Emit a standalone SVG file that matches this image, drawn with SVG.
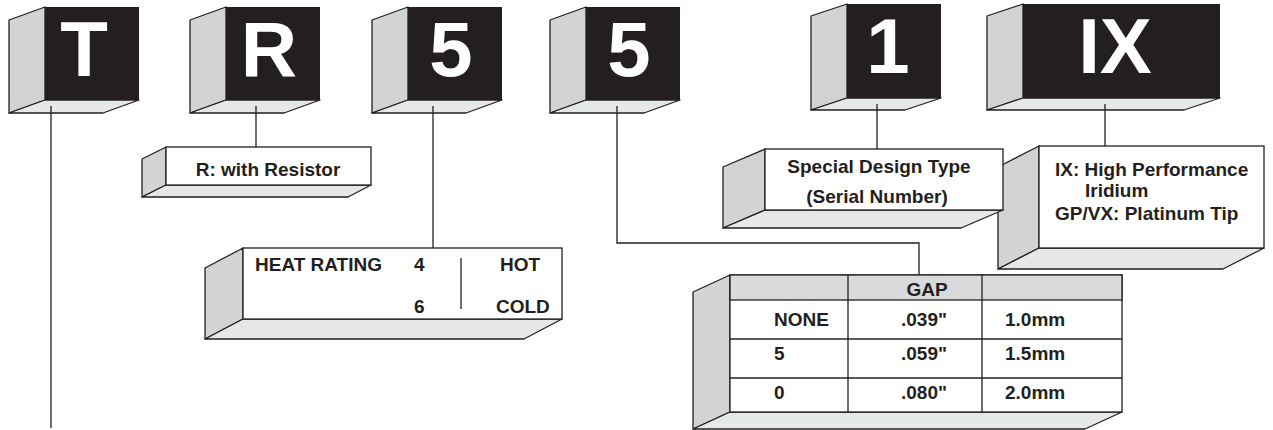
<svg xmlns="http://www.w3.org/2000/svg" width="1273" height="430" viewBox="0 0 1273 430">
<style>
.blk{fill:#231f20}
.side{fill:#d1d3d4;stroke:#231f20;stroke-width:1.3;stroke-linejoin:round}
.bot{fill:#e6e7e8;stroke:#231f20;stroke-width:1.3;stroke-linejoin:round}
.face{fill:#fff;stroke:#231f20;stroke-width:1.3}
.hdr{fill:#d9dadb;stroke:#231f20;stroke-width:1.3}
.big{font-family:"Liberation Sans",Arial,sans-serif;font-weight:bold;font-size:78px;fill:#fff;text-anchor:middle}
.t{font-family:"Liberation Sans",Arial,sans-serif;font-weight:bold;font-size:19px;fill:#231f20}
.m{text-anchor:middle}
.conn{stroke:#231f20;stroke-width:1.3;fill:none}
</style>
<rect width="1273" height="430" fill="#fff"/>
<g id="block-T">
<polygon class="side" points="45,7 9,20 9,113 45,100"/>
<polygon class="bot" points="45,100 139,100 103,113 9,113"/>
<rect class="blk" x="45" y="7" width="94" height="93"/>
<text class="big" x="84" y="76">T</text>
</g>
<g id="block-R">
<polygon class="side" points="226,7 190,20 190,113 226,100"/>
<polygon class="bot" points="226,100 320,100 284,113 190,113"/>
<rect class="blk" x="226" y="7" width="94" height="93"/>
<text class="big" x="269" y="76">R</text>
</g>
<g id="block-5a">
<polygon class="side" points="408,7 372,20 372,113 408,100"/>
<polygon class="bot" points="408,100 502,100 466,113 372,113"/>
<rect class="blk" x="408" y="7" width="94" height="93"/>
<text class="big" x="451" y="76">5</text>
</g>
<g id="block-5b">
<polygon class="side" points="586,7 550,20 550,113 586,100"/>
<polygon class="bot" points="586,100 680,100 644,113 550,113"/>
<rect class="blk" x="586" y="7" width="94" height="93"/>
<text class="big" x="629" y="76">5</text>
</g>
<g id="block-1">
<polygon class="side" points="847,4 811,16 811,110 847,98"/>
<polygon class="bot" points="847,98 941,98 905,110 811,110"/>
<rect class="blk" x="847" y="4" width="94" height="94"/>
<text class="big" x="888" y="73">1</text>
</g>
<g id="block-IX">
<polygon class="side" points="1023,4 987,16 987,110 1023,98"/>
<polygon class="bot" points="1023,98 1220,98 1184,110 987,110"/>
<rect class="blk" x="1023" y="4" width="197" height="94"/>
<text class="big" x="1115" y="73">IX</text>
</g>
<g id="box-resistor">
<polygon class="side" points="166,147 142,159 142,197 166,185"/>
<polygon class="bot" points="166,185 371,185 348,197 142,197"/>
<rect class="face" x="166" y="147" width="205" height="38"/>
<text class="t m" x="268" y="176">R: with Resistor</text>
</g>
<g id="box-heat">
<polygon class="side" points="243,248 205,268 205,339 243,319"/>
<polygon class="bot" points="243,319 562,319 524,339 205,339"/>
<rect class="face" x="243" y="248" width="319" height="71"/>
<text class="t" x="255" y="271">HEAT RATING</text>
<text class="t" x="414" y="271">4</text>
<text class="t" x="500" y="271">HOT</text>
<text class="t" x="414" y="313">6</text>
<text class="t" x="496" y="313">COLD</text>
<line class="conn" x1="461" y1="258" x2="461" y2="309"/>
</g>
<g id="box-ix">
<polygon class="side" points="1039,146 998,167 998,269 1039,248"/>
<polygon class="bot" points="1039,248 1264,248 1223,269 998,269"/>
<rect class="face" x="1039" y="146" width="225" height="102"/>
<text class="t" x="1055" y="176">IX: High Performance</text>
<text class="t" x="1085" y="197">Iridium</text>
<text class="t" x="1055" y="220">GP/VX: Platinum Tip</text>
</g>
<g id="box-special">
<polygon class="side" points="765,149 723,167 723,228 765,210"/>
<polygon class="bot" points="765,210 1003,210 961,228 723,228"/>
<rect class="face" x="765" y="149" width="238" height="61"/>
<text class="t m" x="879" y="173">Special Design Type</text>
<text class="t m" x="877" y="203">(Serial Number)</text>
</g>
<g id="table-gap">
<polygon class="side" points="730,275 693,292 693,429 730,412"/>
<polygon class="bot" points="730,412 1122,412 1085,429 693,429"/>
<rect class="face" x="730" y="275" width="392" height="137"/>
<rect class="hdr" x="730" y="275" width="392" height="25"/>
<line class="conn" x1="730" y1="339" x2="1122" y2="339"/>
<line class="conn" x1="730" y1="378" x2="1122" y2="378"/>
<line class="conn" x1="848" y1="275" x2="848" y2="412"/>
<line class="conn" x1="982" y1="275" x2="982" y2="412"/>
<text class="t m" x="927" y="296">GAP</text>
<text class="t" x="774" y="326">NONE</text>
<text class="t" x="901" y="326">.039"</text>
<text class="t" x="1005" y="326">1.0mm</text>
<text class="t" x="774" y="360">5</text>
<text class="t" x="901" y="360">.059"</text>
<text class="t" x="1005" y="360">1.5mm</text>
<text class="t" x="774" y="399">0</text>
<text class="t" x="901" y="399">.080"</text>
<text class="t" x="1005" y="399">2.0mm</text>
</g>
<g id="connectors">
<path class="conn" d="M51 106 V428"/>
<path class="conn" d="M256 106 V147"/>
<path class="conn" d="M433 106 V248"/>
<path class="conn" d="M617 106 V243 H919 V275"/>
<path class="conn" d="M877 104 V149"/>
<path class="conn" d="M1105 104 V146"/>
</g>
</svg>
